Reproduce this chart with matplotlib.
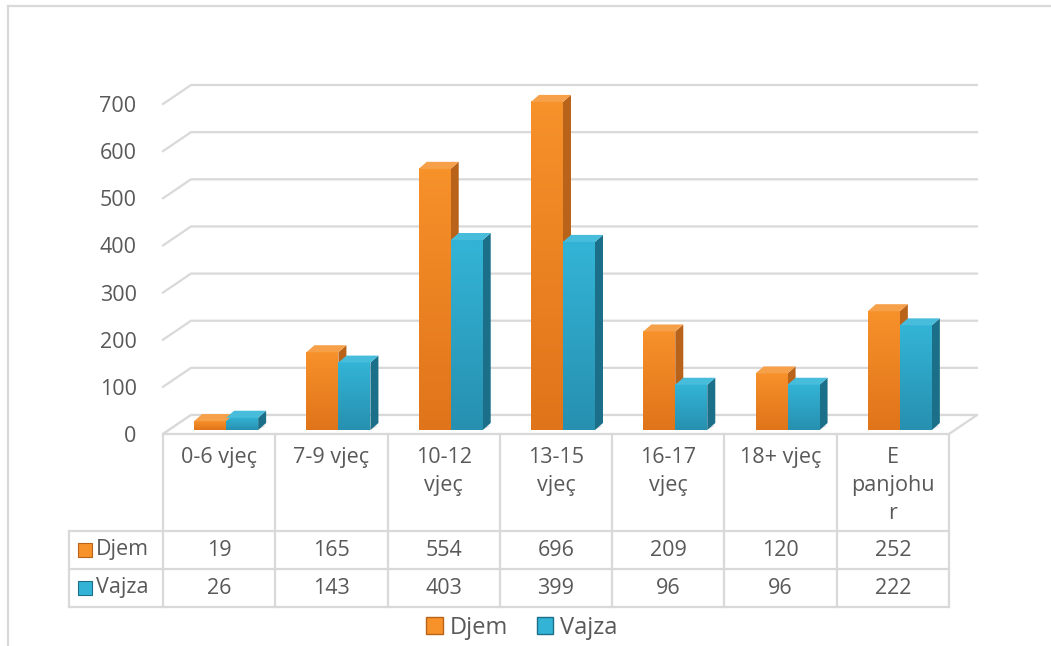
import numpy as np
import matplotlib.pyplot as plt
from matplotlib.patches import Polygon, Rectangle
from matplotlib.lines import Line2D
from matplotlib.colors import LinearSegmentedColormap
from matplotlib.transforms import offset_copy

plt.rcParams['font.family'] = ['Open Sans', 'DejaVu Sans']

categories = ['0-6 vjeç', '7-9 vjeç', '10-12\nvjeç', '13-15\nvjeç', '16-17\nvjeç', '18+ vjeç', 'E\npanjohu\nr']
series = ['Djem', 'Vajza']
djem = [19, 165, 554, 696, 209, 120, 252]
vajza = [26, 143, 403, 399, 96, 96, 222]
yticks = [0, 100, 200, 300, 400, 500, 600, 700]

W, H = 1051, 646
fig = plt.figure(figsize=(W / 100, H / 100), dpi=100)

def fx(px):
    return px / W

def fy(py):
    return 1 - py / H

FS = 15.5
# front plane of the 3d box
left, right, y0, y700 = 163, 949, 434, 104
ax = fig.add_axes([fx(left), fy(y0), fx(right) - fx(left), fy(y700) - fy(y0)])
ax.set_xlim(-0.5, 6.5)
ax.set_ylim(0, 700)
for s in ax.spines.values():
    s.set_visible(False)
ax.set_xticks([])
ax.set_yticks(yticks)
ax.tick_params(axis='y', length=0, pad=19, labelsize=FS, labelcolor='#595959')

# pixels per data unit
pxx = (right - left) / 7.0
pxy = (y0 - y700) / 700.0

grid_c = '#D9D9D9'
DX, DY = 28, 19   # depth of the box
x_l, x_r = -0.5, 6.5
ddx, ddy = DX / pxx, DY / pxy

# back wall gridlines + left wall slants
for v in yticks:
    ax.plot([x_l, x_l + ddx, x_r + ddx], [v, v + ddy, v + ddy],
            color=grid_c, lw=1.6, clip_on=False, zorder=1)
# floor
floor = Polygon([[x_l, 0], [x_r, 0], [x_r + ddx, ddy], [x_l + ddx, ddy]],
                closed=True, facecolor='white', edgecolor=grid_c, lw=1.6,
                clip_on=False, zorder=1)
ax.add_patch(floor)

# bars
BX, BY = 7, 4
SX, SY = 8, 7
bw = 32 / pxx
sx, sy = SX / pxx, SY / pxy
tr = offset_copy(ax.transData, fig=fig, x=BX, y=BY, units='dots')

cols = {
    'Djem': dict(front='#F7912A', top='#F6A14A', side='#B9631A', dark='#E0741A'),
    'Vajza': dict(front='#33B4D6', top='#47BCDB', side='#1C6F88', dark='#2790B0'),
}

xs = np.arange(len(categories))
grad = np.linspace(0, 1, 64).reshape(-1, 1)
for k, (name, vals) in enumerate(zip(series, [djem, vajza])):
    c = cols[name]
    xpos = xs - bw / 2 + k * bw
    # soft shadow on floor
    for x, v in zip(xpos, vals):
        sh = Polygon([[x - bw * 0.35, 0.5], [x + bw / 2, 0.5], [x + bw / 2 + sx, sy * 0.6],
                      [x - bw * 0.2 + sx, sy * 0.6]], closed=True,
                     facecolor='#BFBFBF', edgecolor='none', alpha=0.5,
                     transform=tr, zorder=2)
        ax.add_patch(sh)
    bars = ax.bar(xpos, vals, width=bw, color=c['front'], edgecolor='none',
                  zorder=4, label=name, clip_on=False)
    cm = LinearSegmentedColormap.from_list('g_' + name, [c['dark'], c['front']])
    for b, x, v in zip(bars, xpos, vals):
        b.set_transform(tr)
        # vertical gradient on the front face
        im = ax.imshow(grad, cmap=cm, aspect='auto', origin='lower',
                       extent=[x - bw / 2, x + bw / 2, 0, v], transform=tr,
                       zorder=4.5, clip_on=False)
        im.set_clip_path(b)
        xr = x + bw / 2
        side = Polygon([[xr, 0], [xr + sx, sy], [xr + sx, v + sy], [xr, v]],
                       closed=True, facecolor=c['side'], edgecolor='none',
                       transform=tr, zorder=4, clip_on=False)
        top = Polygon([[x - bw / 2, v], [xr, v], [xr + sx, v + sy], [x - bw / 2 + sx, v + sy]],
                      closed=True, facecolor=c['top'], edgecolor='none',
                      transform=tr, zorder=5, clip_on=False)
        ax.add_patch(side)
        ax.add_patch(top)
ax.set_xlim(-0.5, 6.5)
ax.set_ylim(0, 700)

# data table
txt_c = '#595959'
row_hdr_l = 69
rows_y = [434, 531, 569, 607]
for i in range(len(categories) + 1):
    fig.add_artist(Line2D([fx(left + i * pxx)] * 2, [fy(434), fy(607)], color=grid_c, lw=1.6))
for yy in rows_y[1:]:
    fig.add_artist(Line2D([fx(row_hdr_l), fx(right)], [fy(yy), fy(yy)], color=grid_c, lw=1.6))
fig.add_artist(Line2D([fx(row_hdr_l)] * 2, [fy(531), fy(607)], color=grid_c, lw=1.6))

for i, cat in enumerate(categories):
    fig.text(fx(left + (i + 0.5) * pxx), fy(447), cat, ha='center', va='top',
             fontsize=FS, color=txt_c, linespacing=1.45)
for r, (name, vals) in enumerate(zip(series, [djem, vajza])):
    yc = (rows_y[r + 1] + rows_y[r + 2]) / 2
    for i, v in enumerate(vals):
        fig.text(fx(left + (i + 0.5) * pxx), fy(yc), str(v), ha='center', va='center',
                 fontsize=FS, color=txt_c)
    fig.add_artist(Rectangle((fx(78), fy(yc + 7)), fx(14), 14 / H,
                             facecolor=cols[name]['front'], edgecolor=cols[name]['side'], lw=0.8))
    fig.text(fx(96), fy(yc), name, ha='left', va='center', fontsize=FS, color=txt_c)

# legend
fig.legend([Rectangle((0, 0), 1, 1, facecolor=cols[n]['front'], edgecolor=cols[n]['side'])
            for n in series], series, loc='center', bbox_to_anchor=(fx(522), fy(628)),
           ncol=2, frameon=False, fontsize=17, handlelength=0.7, handleheight=0.7,
           handletextpad=0.3, columnspacing=1.2, labelcolor=txt_c)

# chart border
fig.add_artist(Line2D([fx(8), 1], [fy(6), fy(6)], color=grid_c, lw=1.6))
fig.add_artist(Line2D([fx(8), fx(8)], [0, fy(6)], color=grid_c, lw=1.6))

fig.savefig('out.png', dpi=100)
